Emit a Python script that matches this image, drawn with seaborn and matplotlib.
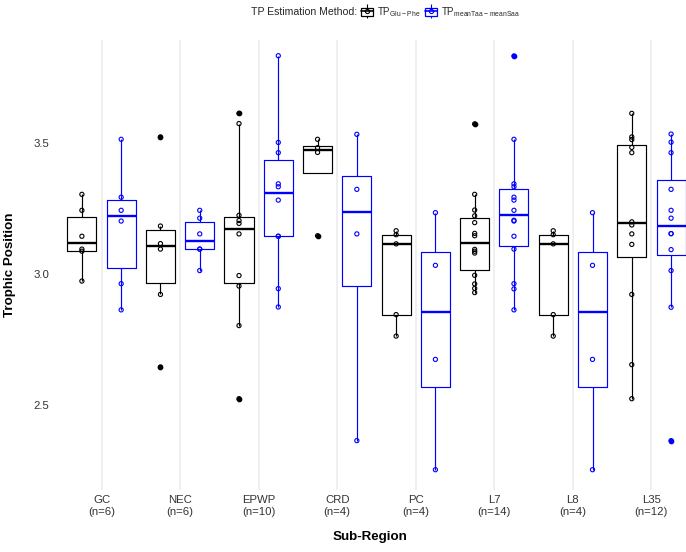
import numpy as np
import pandas as pd
import matplotlib
matplotlib.use("Agg")
import matplotlib.pyplot as plt
import seaborn as sns
from matplotlib.patches import Rectangle
from matplotlib.lines import Line2D
from matplotlib.legend_handler import HandlerTuple

# Sub-regions and sample counts shown under the tick labels
regions = ["GC", "NEC", "EPWP", "CRD", "PC", "L7", "L8", "L35"]
n_sites = [6, 6, 10, 4, 4, 14, 4, 12]

methods = ["Glu-Phe", "meanTaa-meanSaa"]
method_colors = ["#000000", "#0000FF"]
method_labels = [r"TP$_{\mathrm{Glu-Phe}}$", r"TP$_{\mathrm{meanTaa-meanSaa}}$"]

# Trophic position values per region
tp_glu_phe = [
    [2.973, 3.087, 3.095, 3.144, 3.243, 3.304],
    [2.645, 2.922, 3.095, 3.116, 3.183, 3.523],
    [2.524, 2.803, 2.954, 2.994, 3.153, 3.193, 3.204, 3.224, 3.574, 3.613],
    [3.146, 3.464, 3.482, 3.514],
    [2.763, 2.845, 3.115, 3.150, 3.165],
    [2.929, 2.945, 2.962, 2.995, 3.080, 3.087, 3.094, 3.146, 3.155, 3.196,
     3.222, 3.244, 3.304, 3.573],
    [2.763, 2.845, 3.115, 3.150, 3.165],
    [2.524, 2.654, 2.922, 3.113, 3.153, 3.187, 3.199, 3.463, 3.483, 3.513,
     3.523, 3.613],
]
tp_mean_aa = [
    [2.863, 2.963, 3.202, 3.243, 3.293, 3.514],
    [3.013, 3.095, 3.095, 3.153, 3.213, 3.243],
    [2.874, 2.944, 3.144, 3.144, 3.282, 3.333, 3.344, 3.463, 3.502, 3.833],
    [2.364, 3.153, 3.323, 3.533],
    [2.253, 2.674, 3.033, 3.234],
    [2.863, 2.943, 2.963, 3.095, 3.144, 3.202, 3.205, 3.243, 3.282, 3.293,
     3.333, 3.344, 3.514, 3.832],
    [2.253, 2.674, 3.033, 3.234],
    [2.364, 2.873, 3.013, 3.093, 3.154, 3.154, 3.213, 3.243, 3.323, 3.463,
     3.503, 3.534],
]

rows = []
for region, glu, mean in zip(regions, tp_glu_phe, tp_mean_aa):
    for method, vals in zip(methods, (glu, mean)):
        for v in vals:
            rows.append({"region": region, "method": method,
                         "slot": f"{region} {method}", "tp": v})
df = pd.DataFrame(rows)
# one slot per (region, method); pairs sit side by side
slot_order = [f"{r} {m}" for r in regions for m in methods]
palette = dict(zip(methods, method_colors))

sns.set_theme(style="white")
plt.rcParams["font.family"] = ["Liberation Sans", "DejaVu Sans"]
plt.rcParams["mathtext.fontset"] = "custom"
plt.rcParams["mathtext.rm"] = "Liberation Sans"

fig = plt.figure(figsize=(6.86, 5.52), dpi=100)
ax = fig.add_axes([54 / 686, 62.5 / 552, 632 / 686, 449.5 / 552])

sns.boxplot(
    data=df, x="slot", y="tp", hue="method", order=slot_order,
    hue_order=methods, palette=palette, dodge=False, fill=False,
    width=0.74, linewidth=0.85, showcaps=False, whis=1.5,
    medianprops={"linewidth": 1.7},
    flierprops={"marker": "o", "markersize": 3.1},
    legend=False, ax=ax,
)
# outliers drawn as filled dots
for line in ax.lines:
    if line.get_marker() == "o":
        line.set_markerfacecolor(line.get_markeredgecolor())

n0 = len(ax.collections)
sns.stripplot(
    data=df, x="slot", y="tp", hue="method", order=slot_order,
    hue_order=methods, palette=palette, jitter=False, dodge=False,
    size=3.0, linewidth=0.8, legend=False, ax=ax,
)
# open circles for the individual values
for coll in ax.collections[n0:]:
    fc = coll.get_facecolors()
    coll.set_edgecolors(fc)
    coll.set_facecolors("none")

ax.set_xlim(-0.71, 15.38)
ax.set_ylim(2.1775, 3.893)
ax.set_xticks(np.arange(len(regions)) * 2 + 0.5,
              labels=[f"{r}\n(n={n})" for r, n in zip(regions, n_sites)])
ax.set_yticks([2.5, 3.0, 3.5], labels=["2.5", "3.0", "3.5"])
ax.grid(axis="x", color="#EBEBEB", linewidth=1.1)
ax.grid(axis="y", visible=False)
ax.set_axisbelow(True)
for s in ax.spines.values():
    s.set_visible(False)
ax.tick_params(axis="both", length=0, labelsize=8.2, colors="#333333")
ax.tick_params(axis="x", pad=4)
ax.tick_params(axis="y", pad=3.6)

ax.set_xlabel("Sub-Region", fontweight="bold", fontsize=9.6, color="black")
ax.set_ylabel("Trophic Position", fontweight="bold", fontsize=9.6, color="black")
ax.xaxis.set_label_coords(0.5, (489.5 - 537) / 449.5)
ax.xaxis.label.set_va("center")
ax.yaxis.set_label_coords((10 - 54) / 632, 0.5)
ax.yaxis.label.set_va("center")

# legend row at the top
fig.text(357 / 686, 1 - 12 / 552, "TP Estimation Method:", ha="right",
         va="center", fontsize=7.6)
handles = []
for c in method_colors:
    handles.append((
        Line2D([], [], color=c, marker="|", markersize=10, linestyle="None",
               markeredgewidth=0.8),
        Rectangle((0, 0), 1, 1, facecolor="white", edgecolor=c, linewidth=0.9),
        Line2D([], [], color=c, linewidth=1.2, marker="o", markersize=3,
               markerfacecolor="none", markeredgewidth=0.8),
    ))
fig.legend(
    handles, method_labels, loc="center left",
    bbox_to_anchor=(361 / 686, 1 - 12 / 552), ncol=2, frameon=False,
    fontsize=7, handler_map={tuple: HandlerTuple(ndivide=1)},
    handlelength=1.25, handleheight=0.85, handletextpad=0.35,
    columnspacing=0.5, borderpad=0, borderaxespad=0,
)

fig.savefig("out.png", dpi=100)
